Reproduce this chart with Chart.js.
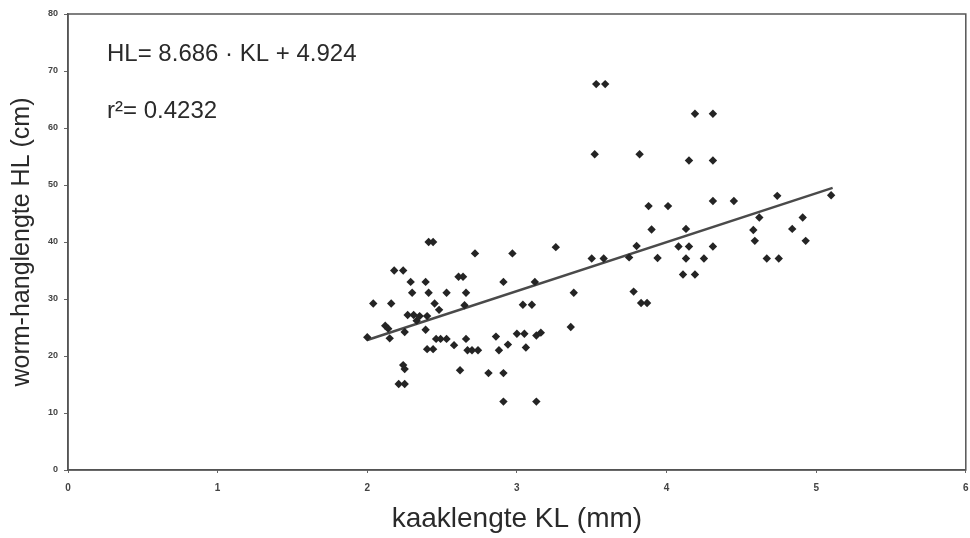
<!DOCTYPE html>
<html>
<head>
<meta charset="utf-8">
<script src="https://cdn.jsdelivr.net/npm/chart.js@4.4.1/dist/chart.umd.min.js"></script>
<style>
  body { margin: 0; background: #fff; }
  #wrap { width: 970px; height: 538px; }
</style>
</head>
<body>
<div id="wrap"><canvas id="kaakChart" width="970" height="538"></canvas></div>
<script>
// kaaklengte KL (mm) and worm-hanglengte HL (cm)
var kaakLengte = [
  2.00, 2.04, 2.12, 2.14, 2.15, 2.16, 2.18, 2.24, 2.21, 2.25,
  2.24, 2.25, 2.25, 2.27, 2.31, 2.29, 2.30, 2.33, 2.35, 2.40,
  2.39, 2.39, 2.41, 2.41, 2.44, 2.40, 2.44, 2.45, 2.46, 2.49,
  2.53, 2.48, 2.53, 2.58, 2.61, 2.64, 2.62, 2.65, 2.66, 2.66,
  2.67, 2.70, 2.74, 2.72, 2.81, 2.86, 2.88, 2.91, 2.91, 2.91,
  2.94, 2.97, 3.00, 3.05, 3.04, 3.10, 3.06, 3.12, 3.13, 3.16,
  3.13, 3.26, 3.36, 3.38, 3.50, 3.58, 3.52, 3.53, 3.59, 3.75,
  3.78, 3.80, 3.82, 3.83, 3.87, 3.88, 3.90, 3.94, 4.01, 4.08,
  4.13, 4.15, 4.13, 4.11, 4.19, 4.15, 4.19, 4.25, 4.31, 4.31,
  4.31, 4.31, 4.45, 4.58, 4.59, 4.62, 4.67, 4.75, 4.74, 4.84,
  4.91, 4.93, 5.10
];
var hangLengte = [
  23.3, 29.2, 25.3, 24.8, 23.1, 29.2, 35.0, 35.0, 15.1, 15.1,
  18.4, 17.7, 24.2, 27.2, 27.2, 33.0, 31.1, 26.2, 27.0, 27.0,
  33.0, 24.6, 31.1, 40.0, 40.0, 21.2, 21.2, 29.2, 23.0, 23.0,
  23.0, 28.1, 31.1, 21.9, 33.9, 33.9, 17.5, 28.9, 31.1, 23.0,
  21.0, 21.0, 21.0, 38.0, 17.0, 23.4, 21.0, 33.0, 17.0, 12.0,
  22.0, 38.0, 23.9, 23.9, 29.0, 29.0, 21.5, 33.0, 23.6, 24.1,
  12.0, 39.1, 25.1, 31.1, 37.1, 37.1, 55.4, 67.7, 67.7, 37.3,
  31.3, 39.3, 55.4, 29.3, 29.3, 46.3, 42.2, 37.2, 46.3, 39.2,
  42.3, 39.2, 37.1, 34.3, 34.3, 54.3, 62.5, 37.1, 62.5, 54.3,
  47.2, 39.2, 47.2, 42.1, 40.2, 44.3, 37.1, 37.1, 48.1, 42.3,
  44.3, 40.2, 48.2
];
// ends of the fitted line as drawn
var lijnX = [2.00, 5.11];
var lijnY = [22.8, 49.5];
var xTicks = [0, 1, 2, 3, 4, 5, 6];
var yTicks = [0, 10, 20, 30, 40, 50, 60, 70, 80];
var formule = "HL= 8.686 \u00b7 KL + 4.924";
var rKwadraat = "r\u00b2= 0.4232";

var punten = kaakLengte.map(function(x, i) { return {x: x, y: hangLengte[i]}; });
var lijn = lijnX.map(function(x, i) { return {x: x, y: lijnY[i]}; });

var kader = {
  id: 'kader',
  afterDraw: function(chart) {
    var ctx = chart.ctx, a = chart.chartArea;
    ctx.save();
    ctx.strokeStyle = '#555';
    ctx.lineWidth = 1.5;
    ctx.strokeRect(a.left, a.top, a.right - a.left, a.bottom - a.top);
    ctx.fillStyle = '#2a2a2a';
    ctx.font = '24px "Liberation Sans", Arial, sans-serif';
    ctx.textBaseline = 'alphabetic';
    ctx.fillText(formule, 107, 61);
    ctx.fillText(rKwadraat, 107, 118);
    ctx.restore();
  }
};

var ctx = document.getElementById('kaakChart');
var kaakChart = new Chart(ctx, {
  type: 'scatter',
  data: {
    datasets: [{
      label: 'punten',
      data: punten,
      pointStyle: 'rectRot',
      radius: 4.2,
      backgroundColor: '#242424',
      borderColor: '#242424',
      borderWidth: 0
    }, {
      type: 'line',
      label: 'regressie',
      data: lijn,
      borderColor: '#4a4a4a',
      borderWidth: 2.5,
      pointRadius: 0,
      fill: false
    }]
  },
  options: {
    responsive: false,
    animation: false,
    layout: { padding: { top: 14, right: 4, left: 0, bottom: 0 } },
    plugins: { legend: { display: false }, tooltip: { enabled: false } },
    scales: {
      x: {
        type: 'linear',
        min: 0, max: 6,
        afterBuildTicks: function(s) { s.ticks = xTicks.map(function(v) { return {value: v}; }); },
        afterFit: function(s) { s.height = 68; s.paddingRight = 4; s.paddingLeft = 0; },
        grid: { display: true, drawOnChartArea: false, tickLength: 3, color: '#666' },
        border: { display: true, color: '#555', width: 1.5 },
        ticks: { color: '#444', font: { size: 10, weight: 'bold', family: 'Liberation Sans' }, padding: 9 },
        title: {
          display: true, text: 'kaaklengte KL (mm)', color: '#2a2a2a',
          font: { size: 28, family: 'Liberation Sans' }, padding: { top: 0, bottom: 2 }
        }
      },
      y: {
        type: 'linear',
        min: 0, max: 80,
        afterBuildTicks: function(s) { s.ticks = yTicks.map(function(v) { return {value: v}; }); },
        afterFit: function(s) { s.width = 68; },
        grid: { display: true, drawOnChartArea: false, tickLength: 4, color: '#666' },
        border: { display: true, color: '#555', width: 1.5 },
        ticks: { color: '#444', font: { size: 9, weight: 'bold', family: 'Liberation Sans' }, padding: 6 },
        title: {
          display: true, text: 'worm-hanglengte HL (cm)', color: '#2a2a2a',
          font: { size: 25, family: 'Liberation Sans' }, padding: { top: 7, bottom: 0 }
        }
      }
    }
  },
  plugins: [kader]
});
</script>
</body>
</html>
